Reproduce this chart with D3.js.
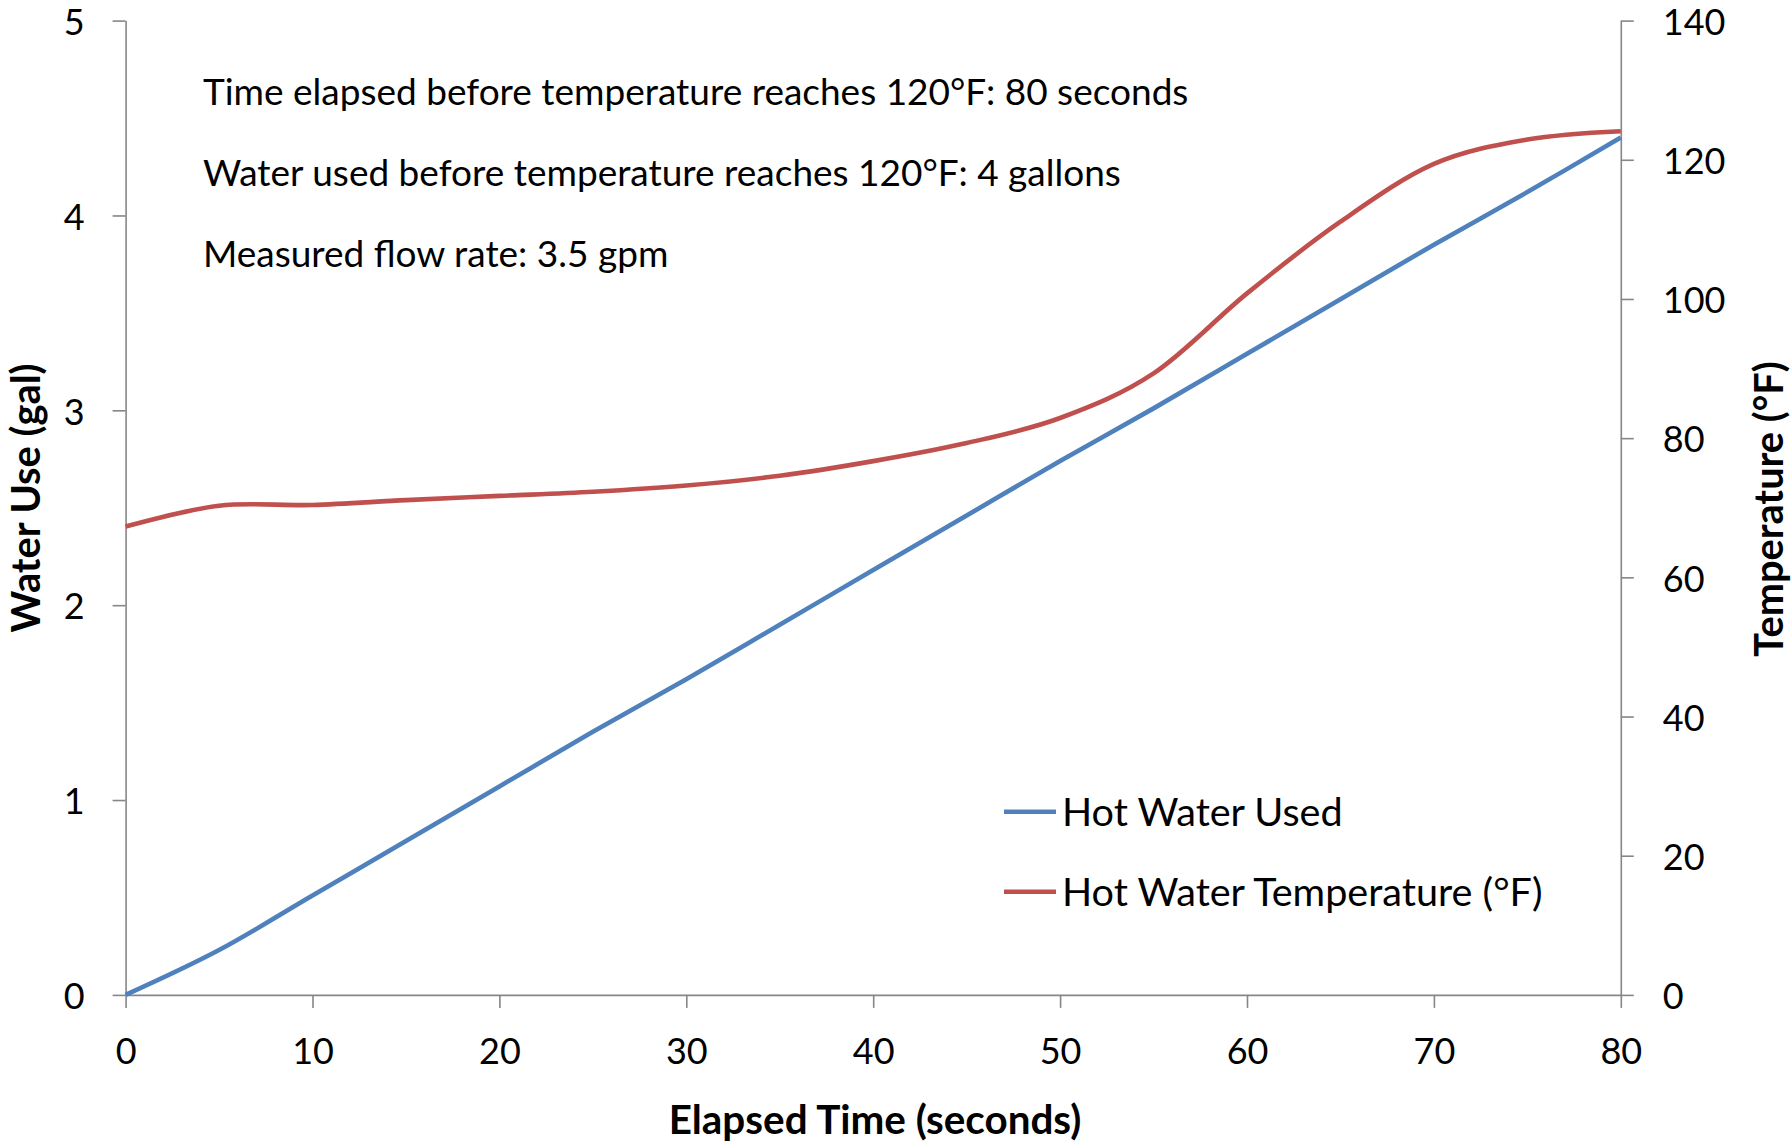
<!DOCTYPE html>
<html>
<head>
<meta charset="utf-8">
<script src="https://cdn.jsdelivr.net/npm/d3@7"></script>
<style>
  body { margin: 0; background: #fff; }
  text { font-family: Lato, "Open Sans", sans-serif; fill: #000; }
</style>
</head>
<body>
<svg id="chart" width="1791" height="1144"></svg>
<script>
// Elapsed time since the tap was opened (s)
const seconds = [0, 5, 10, 15, 20, 25, 30, 35, 40, 45, 50, 55, 60, 65, 70, 75, 80];
// Cumulative hot water drawn (gal)
const gallonsUsed = [0, 0.23, 0.51, 0.79, 1.07, 1.35, 1.62, 1.90, 2.18, 2.46, 2.74, 3.01, 3.29, 3.57, 3.85, 4.12, 4.40];
// Water temperature at the outlet (°F)
const temperatureF = [67.3, 70.3, 70.4, 71.1, 71.7, 72.3, 73.2, 74.6, 76.7, 79.3, 82.9, 89.3, 100.8, 111.1, 119.4, 122.9, 124.1];

const timeTicks = [0, 10, 20, 30, 40, 50, 60, 70, 80];
const gallonTicks = [0, 1, 2, 3, 4, 5];
const tempTicks = [0, 20, 40, 60, 80, 100, 120, 140];

const notes = [
  "Time elapsed before temperature reaches 120°F: 80 seconds",
  "Water used before temperature reaches 120°F: 4 gallons",
  "Measured flow rate: 3.5 gpm"
];
const seriesNames = ["Hot Water Used", "Hot Water Temperature (°F)"];
const seriesColors = ["#4F81BD", "#C0504D"];

const svg = d3.select("#chart");
const axisColor = "#868686";

const plot = { left: 125.6, right: 1620.8, top: 20.6, bottom: 994.9 };

const x = d3.scaleLinear().domain([0, 80]).range([plot.left, plot.right]);
const yGal = d3.scaleLinear().domain([0, 5]).range([plot.bottom, plot.top]);
const yTemp = d3.scaleLinear().domain([0, 140]).range([plot.bottom, plot.top]);

function styleAxis(g) {
  g.select(".domain").attr("stroke", axisColor).attr("stroke-width", 1.6);
  g.selectAll(".tick line").attr("stroke", axisColor).attr("stroke-width", 1.6);
  g.selectAll(".tick text").attr("font-size", 36).attr("font-family", "Lato, sans-serif").attr("fill", "#000");
}

// Axes
svg.append("g")
  .attr("transform", `translate(0,${plot.bottom})`)
  .call(d3.axisBottom(x).tickValues(timeTicks).tickFormat(d3.format("d"))
    .tickSize(13).tickSizeOuter(0).tickPadding(30))
  .call(styleAxis)
  .call(g => g.selectAll(".tick text").attr("dy", "0.72em"));

svg.append("g")
  .attr("transform", `translate(${plot.left},0)`)
  .call(d3.axisLeft(yGal).tickValues(gallonTicks).tickFormat(d3.format("d"))
    .tickSize(13).tickSizeOuter(0).tickPadding(28))
  .call(styleAxis)
  .call(g => g.selectAll(".tick text").attr("dy", "0.38em"));

svg.append("g")
  .attr("transform", `translate(${plot.right},0)`)
  .call(d3.axisRight(yTemp).tickValues(tempTicks).tickFormat(d3.format("d"))
    .tickSize(13).tickSizeOuter(0).tickPadding(29))
  .call(styleAxis)
  .call(g => g.selectAll(".tick text").attr("dy", "0.38em"));

// Series lines
const usedLine = d3.line()
  .x((d, i) => x(seconds[i]))
  .y(d => yGal(d))
  .curve(d3.curveCardinal);

const tempLine = d3.line()
  .x((d, i) => x(seconds[i]))
  .y(d => yTemp(d))
  .curve(d3.curveCardinal);

svg.append("path")
  .datum(gallonsUsed)
  .attr("fill", "none")
  .attr("stroke", seriesColors[0])
  .attr("stroke-width", 4.6)
  .attr("stroke-linejoin", "round")
  .attr("d", usedLine);

svg.append("path")
  .datum(temperatureF)
  .attr("fill", "none")
  .attr("stroke", seriesColors[1])
  .attr("stroke-width", 4.6)
  .attr("stroke-linejoin", "round")
  .attr("d", tempLine);

// Notes in the upper left of the plot
svg.append("g")
  .selectAll("text")
  .data(notes)
  .join("text")
  .attr("x", 203)
  .attr("y", (d, i) => 91.4 + i * 81.1)
  .attr("dy", "0.36em")
  .attr("font-size", 37)
  .text(d => d);

// Legend
const legend = svg.append("g");
const legendRows = legend.selectAll("g")
  .data(seriesNames)
  .join("g")
  .attr("transform", (d, i) => `translate(1004,${811.7 + i * 80})`);

legendRows.append("line")
  .attr("x1", 0).attr("x2", 52)
  .attr("stroke", (d, i) => seriesColors[i])
  .attr("stroke-width", 4.6);

legendRows.append("text")
  .attr("x", 58)
  .attr("dy", "0.36em")
  .attr("font-size", 39.6)
  .text(d => d);

// Axis titles
svg.append("text")
  .attr("transform", "translate(26,498) rotate(-90)")
  .attr("text-anchor", "middle")
  .attr("dy", "0.36em")
  .attr("font-size", 39.8)
  .attr("font-weight", "bold")
  .text("Water Use (gal)");

svg.append("text")
  .attr("transform", "translate(1769,509) rotate(-90)")
  .attr("text-anchor", "middle")
  .attr("dy", "0.36em")
  .attr("font-size", 39.8)
  .attr("font-weight", "bold")
  .text("Temperature (°F)");

svg.append("text")
  .attr("x", 875)
  .attr("y", 1119)
  .attr("text-anchor", "middle")
  .attr("dy", "0.36em")
  .attr("font-size", 40.4)
  .attr("font-weight", "bold")
  .text("Elapsed Time (seconds)");
</script>
</body>
</html>
